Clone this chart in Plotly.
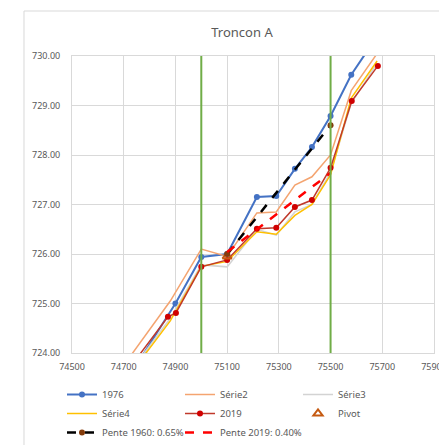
import plotly.graph_objects as go

# ---- data ----
x_1976 = [74700, 74900, 75000, 75100, 75215, 75290, 75362, 75428, 75500, 75580, 75680]
y_1976 = [723.35, 725.00, 725.94, 726.00, 727.15, 727.17, 727.72, 728.16, 728.79, 729.62, 730.40]

x_s2 = [74700, 74880, 75000, 75100, 75215, 75290, 75362, 75428, 75500, 75580, 75680]
y_s2 = [723.75, 725.05, 726.10, 725.95, 726.83, 726.85, 727.39, 727.56, 728.00, 729.30, 730.05]

x_s3 = [74700, 74880, 75000, 75100, 75215, 75290, 75362, 75428, 75500, 75580, 75680]
y_s3 = [723.45, 724.70, 725.78, 725.74, 726.50, 726.38, 726.85, 727.00, 727.65, 729.05, 729.85]

x_s4 = [74700, 74880, 75000, 75100, 75215, 75290, 75362, 75428, 75500, 75580, 75680]
y_s4 = [723.40, 724.65, 725.75, 725.85, 726.45, 726.40, 726.78, 727.00, 727.60, 729.15, 729.90]

x_2019 = [74700, 74871, 74902, 75000, 75100, 75215, 75290, 75362, 75428, 75500, 75582, 75683]
y_2019 = [723.54, 724.73, 724.81, 725.74, 725.88, 726.51, 726.53, 726.95, 727.09, 727.74, 729.09, 729.80]

x_pivot = [75100]
y_pivot = [725.95]

x_p1960 = [75100, 75500]
y_p1960 = [726.00, 728.60]

x_p2019 = [75100, 75500]
y_p2019 = [726.04, 727.64]

limits_x = [75000, 75500]

x_ticks = [74500, 74700, 74900, 75100, 75300, 75500, 75700, 75900]
y_ticks = [724, 725, 726, 727, 728, 729, 730]

FONT = "Noto Sans"
GREY = "#595959"
GRID = "#D9D9D9"

# page body has an 8px default margin: figure is sized/positioned to compensate
W, H = 439, 437

fig = go.Figure()

fig.add_trace(go.Scatter(x=x_1976, y=y_1976, name="1976", mode="lines+markers",
                         line=dict(color="#4472C4", width=2),
                         marker=dict(color="#4472C4", size=6), cliponaxis=True))
fig.add_trace(go.Scatter(x=x_s2, y=y_s2, name="Série2", mode="lines",
                         line=dict(color="#F4A470", width=1.5)))
fig.add_trace(go.Scatter(x=x_s3, y=y_s3, name="Série3", mode="lines",
                         line=dict(color="#D3D3D3", width=1.5)))
fig.add_trace(go.Scatter(x=x_s4, y=y_s4, name="Série4", mode="lines",
                         line=dict(color="#FFC000", width=1.5)))
fig.add_trace(go.Scatter(x=x_2019, y=y_2019, name="2019", mode="lines+markers",
                         line=dict(color="#C0392B", width=1.5),
                         marker=dict(color="#D00000", size=6), cliponaxis=True))
fig.add_trace(go.Scatter(x=x_pivot, y=y_pivot, name="Pivot", mode="markers",
                         marker=dict(symbol="triangle-up-open", color="#C55A11", size=8,
                                     line=dict(width=2, color="#C55A11"))))
fig.add_trace(go.Scatter(x=x_p1960, y=y_p1960, name="Pente 1960: 0.65%", mode="lines+markers",
                         line=dict(color="#000000", width=2.5, dash="dash"),
                         marker=dict(color="#843C0C", size=6)))
fig.add_trace(go.Scatter(x=x_p2019, y=y_p2019, name="Pente 2019: 0.40%", mode="lines",
                         line=dict(color="#FF0000", width=2.5, dash="dash")))

for xv in limits_x:
    fig.add_shape(type="line", xref="x", yref="y", x0=xv, x1=xv, y0=724, y1=730,
                  line=dict(color="#70AD47", width=2), layer="above")

# chart area border (cropped)
fig.add_shape(type="rect", xref="paper", yref="paper", x0=-0.1326, x1=1.3, y0=-0.5, y1=1.1515,
              line=dict(color=GRID, width=1), fillcolor="rgba(0,0,0,0)", layer="below")

fig.update_layout(
    width=W, height=H,
    margin=dict(l=64, r=13, t=48, b=92, autoexpand=False),
    paper_bgcolor="white", plot_bgcolor="white",
    title=dict(text="Troncon A", x=(242 - 8) / W, xref="container", xanchor="center",
               y=1 - 24 / H, yanchor="middle",
               font=dict(family=FONT, size=13, color=GREY)),
    font=dict(family=FONT, size=9, color=GREY),
    showlegend=True,
    legend=dict(orientation="h", xref="container", yref="container",
                x=(62 - 8) / W, xanchor="left", y=1 - (380 - 8) / H, yanchor="top",
                entrywidth=73, entrywidthmode="pixels", traceorder="normal",
                font=dict(family=FONT, size=9.5, color=GREY), itemwidth=30,
                bgcolor="rgba(0,0,0,0)"),
)
fig.update_xaxes(range=[74500, 75900], tickvals=x_ticks, ticktext=[str(v) for v in x_ticks],
                 showgrid=True, gridcolor=GRID, gridwidth=1,
                 showline=True, linecolor=GRID, linewidth=1, mirror=True,
                 zeroline=False, ticks="", ticklabelstandoff=5,
                 tickfont=dict(family=FONT, size=9, color=GREY))
fig.update_yaxes(range=[724, 730], tickvals=y_ticks, ticktext=[f"{v:.2f}" for v in y_ticks],
                 showgrid=True, gridcolor=GRID, gridwidth=1,
                 showline=True, linecolor=GRID, linewidth=1, mirror=True,
                 zeroline=False, ticks="", ticklabelstandoff=9,
                 tickfont=dict(family=FONT, size=9, color=GREY))

fig.write_html("out.html")
